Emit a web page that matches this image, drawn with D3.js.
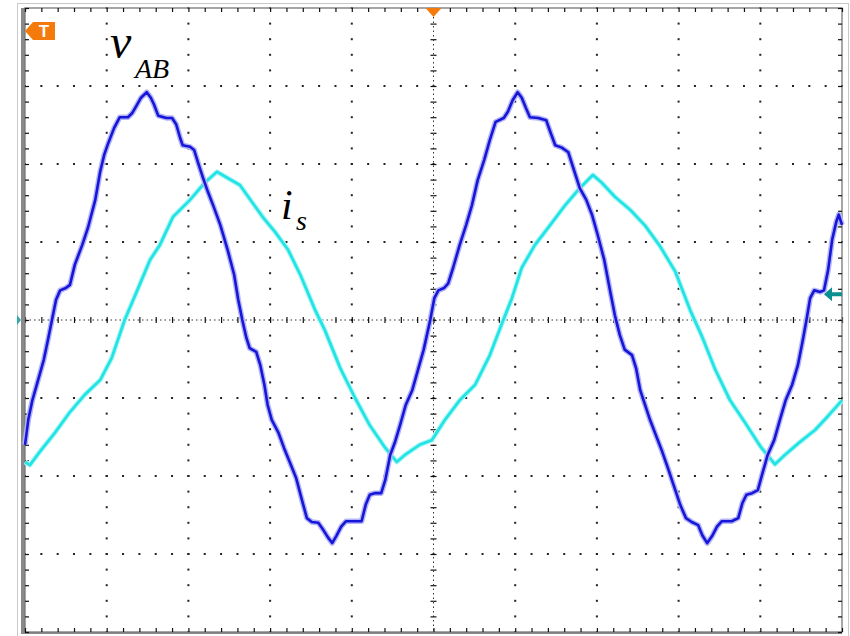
<!DOCTYPE html>
<html>
<head>
<meta charset="utf-8">
<script src="https://cdn.jsdelivr.net/npm/d3@7"></script>
<style>
  html, body { margin: 0; padding: 0; background: #fff; }
  svg { display: block; }
</style>
</head>
<body>
<svg id="chart" width="850" height="636"></svg>
<script>
// ---- Data (time in divisions 0..10, amplitude in divisions -4..4) ----
const vabTime = [0,0.04,0.09,0.16,0.23,0.28,0.33,0.38,0.43,0.50,0.55,0.61,0.70,0.77,0.86,0.92,0.97,1.02,1.09,1.16,1.26,1.31,1.36,1.42,1.49,1.54,1.58,1.63,1.73,1.80,1.85,1.90,1.93,2.02,2.07,2.12,2.18,2.24,2.31,2.39,2.48,2.56,2.61,2.66,2.71,2.75,2.83,2.88,2.93,2.97,3.02,3.10,3.17,3.24,3.32,3.39,3.45,3.51,3.59,3.65,3.71,3.76,3.81,3.87,3.93,4.04,4.12,4.17,4.22,4.28,4.36,4.41,4.47,4.53,4.59,4.66,4.74,4.81,4.88,4.96,
  5.01,5.06,5.13,5.18,5.24,5.32,5.40,5.47,5.54,5.62,5.69,5.76,5.86,5.91,5.97,6.03,6.08,6.13,6.18,6.28,6.38,6.43,6.49,6.57,6.65,6.72,6.79,6.87,6.94,7.01,7.09,7.16,7.22,7.28,7.34,7.43,7.48,7.53,7.59,7.65,7.72,7.80,7.87,7.94,8.02,8.09,8.16,8.24,8.29,8.35,8.41,8.47,8.53,8.65,8.73,8.78,8.83,8.90,8.97,9.02,9.09,9.17,9.24,9.31,9.39,9.46,9.52,9.57,9.61,9.66,9.73,9.78,9.83,9.88,9.93,9.96,10.0];
const vabValue = [-1.60,-1.28,-1.03,-0.77,-0.51,-0.26,0,0.26,0.38,0.41,0.45,0.71,0.96,1.18,1.54,1.90,2.12,2.27,2.46,2.60,2.60,2.65,2.74,2.85,2.92,2.85,2.76,2.62,2.59,2.59,2.51,2.33,2.24,2.22,2.18,2.01,1.82,1.64,1.45,1.22,0.90,0.58,0.26,0,-0.23,-0.36,-0.41,-0.58,-0.83,-1.09,-1.28,-1.44,-1.64,-1.82,-2.03,-2.31,-2.54,-2.59,-2.60,-2.69,-2.79,-2.86,-2.77,-2.65,-2.58,-2.58,-2.58,-2.37,-2.24,-2.22,-2.22,-2.05,-1.73,-1.56,-1.35,-1.09,-0.90,-0.64,-0.38,0,
  0.28,0.38,0.41,0.47,0.67,0.96,1.22,1.47,1.79,2.05,2.31,2.54,2.59,2.67,2.82,2.92,2.85,2.72,2.60,2.59,2.56,2.41,2.24,2.21,2.15,1.92,1.69,1.54,1.35,1.09,0.77,0.38,0.06,-0.19,-0.38,-0.45,-0.62,-0.90,-1.09,-1.28,-1.47,-1.69,-1.90,-2.12,-2.37,-2.54,-2.59,-2.63,-2.76,-2.86,-2.77,-2.65,-2.58,-2.58,-2.54,-2.35,-2.24,-2.22,-2.18,-1.99,-1.73,-1.54,-1.28,-1.03,-0.83,-0.58,-0.26,0.03,0.28,0.38,0.36,0.38,0.64,1.03,1.26,1.35,1.22];

const isTime = [0,0.06,0.18,0.37,0.55,0.73,0.92,1.06,1.22,1.41,1.53,1.65,1.81,2.02,2.20,2.35,2.48,2.63,2.78,2.91,3.06,3.22,3.37,3.55,3.67,3.86,4.04,4.22,4.41,4.55,4.65,4.83,4.98,5.14,5.32,5.51,5.69,5.84,5.96,6.08,6.24,6.43,6.61,6.79,6.95,7.06,7.22,7.41,7.59,7.77,7.96,8.14,8.29,8.45,8.63,8.81,9.00,9.18,9.30,9.49,9.67,9.83,10.0];
const isValue = [-1.82,-1.86,-1.69,-1.44,-1.18,-0.96,-0.77,-0.49,0,0.47,0.77,0.96,1.32,1.54,1.76,1.90,1.82,1.73,1.51,1.32,1.13,0.90,0.58,0.13,-0.13,-0.62,-1.00,-1.35,-1.64,-1.82,-1.73,-1.60,-1.54,-1.28,-1.03,-0.83,-0.45,-0.04,0.28,0.67,0.96,1.22,1.47,1.69,1.86,1.76,1.58,1.41,1.21,0.95,0.62,0.13,-0.22,-0.64,-1.03,-1.31,-1.62,-1.85,-1.73,-1.56,-1.41,-1.23,-1.03];

const xDivisions = 10;
const yDivisions = 8;

// ---- Layout ----
const svg = d3.select("#chart");
const L = 25, R = 842, T = 8, B = 632;
const x = d3.scaleLinear().domain([0, xDivisions]).range([L, R]);
const y = d3.scaleLinear().domain([-yDivisions/2, yDivisions/2]).range([B, T]);

const majorX = d3.range(0, xDivisions + 1);
const majorY = d3.range(-yDivisions/2, yDivisions/2 + 1);
const minorX = d3.range(0, xDivisions + 0.001, 0.2);
const minorY = d3.range(-yDivisions/2, yDivisions/2 + 0.001, 0.2);

// outer light frame
svg.append("rect").attr("x", 17.5).attr("y", 3.5).attr("width", 831).attr("height", 640)
  .attr("fill", "none").attr("stroke", "#c8c8c8").attr("stroke-width", 1);

// grid dots
const g = svg.append("g");
majorX.filter(d => d > 0 && d < xDivisions && d !== xDivisions/2).forEach(d => {
  g.selectAll(null).data(minorY).enter().append("rect")
    .attr("x", x(d) - 1).attr("y", v => y(v) - 1).attr("width", 2).attr("height", 2).attr("fill", "#222");
});
majorY.filter(d => d > -yDivisions/2 && d < yDivisions/2 && d !== 0).forEach(d => {
  g.selectAll(null).data(minorX).enter().append("rect")
    .attr("x", v => x(v) - 1).attr("y", y(d) - 1).attr("width", 2).attr("height", 2).attr("fill", "#222");
});

// center axes (dotted with crossing ticks)
svg.append("line").attr("x1", L).attr("x2", R).attr("y1", y(0)).attr("y2", y(0))
  .attr("stroke", "#333").attr("stroke-width", 1).attr("stroke-dasharray", "1.5,3");
svg.append("line").attr("x1", x(xDivisions/2)).attr("x2", x(xDivisions/2)).attr("y1", T).attr("y2", B)
  .attr("stroke", "#333").attr("stroke-width", 1).attr("stroke-dasharray", "1.5,3");

function cleanAxis(sel) { sel.select(".domain").remove(); sel.selectAll("text").remove(); sel.selectAll("line").attr("stroke", "#111").attr("stroke-width", 1.2); }

svg.append("g").attr("transform", `translate(0,${y(0)})`)
  .call(d3.axisBottom(x).tickValues(minorX).tickSize(3).tickFormat("")).call(cleanAxis);
svg.append("g").attr("transform", `translate(0,${y(0)})`)
  .call(d3.axisTop(x).tickValues(minorX).tickSize(3).tickFormat("")).call(cleanAxis);
svg.append("g").attr("transform", `translate(${x(xDivisions/2)},0)`)
  .call(d3.axisLeft(y).tickValues(minorY).tickSize(3).tickFormat("")).call(cleanAxis);
svg.append("g").attr("transform", `translate(${x(xDivisions/2)},0)`)
  .call(d3.axisRight(y).tickValues(minorY).tickSize(3).tickFormat("")).call(cleanAxis);

// frame
svg.append("rect").attr("x", 21).attr("y", T).attr("width", 4).attr("height", B - T + 2).attr("fill", "#8a8a8a");
svg.append("rect").attr("x", L).attr("y", B).attr("width", R - L).attr("height", 2).attr("fill", "#8a8a8a");
svg.append("rect").attr("x", L).attr("y", T).attr("width", R - L).attr("height", B - T)
  .attr("fill", "none").attr("stroke", "#777").attr("stroke-width", 1.3);

// border inward ticks
svg.append("g").attr("transform", `translate(0,${T})`)
  .call(d3.axisTop(x).tickValues(minorX).tickSize(-4).tickFormat("")).call(cleanAxis);
svg.append("g").attr("transform", `translate(0,${B})`)
  .call(d3.axisBottom(x).tickValues(minorX).tickSize(-4).tickFormat("")).call(cleanAxis);
svg.append("g").attr("transform", `translate(${L},0)`)
  .call(d3.axisLeft(y).tickValues(minorY).tickSize(-4).tickFormat("")).call(cleanAxis);
svg.append("g").attr("transform", `translate(${R},0)`)
  .call(d3.axisRight(y).tickValues(minorY).tickSize(-4).tickFormat("")).call(cleanAxis);

// traces
const vab = vabTime.map((t, i) => [t, vabValue[i]]);
const is = isTime.map((t, i) => [t, isValue[i]]);
const line = d3.line().x(d => x(d[0])).y(d => y(d[1]));

svg.append("path").attr("d", line(is)).attr("fill", "none")
  .attr("stroke", "#b4f6f6").attr("stroke-width", 5).attr("stroke-linejoin", "round");
svg.append("path").attr("d", line(is)).attr("fill", "none")
  .attr("stroke", "#22e4e4").attr("stroke-width", 2.8).attr("stroke-linejoin", "round");

svg.append("path").attr("d", line(vab)).attr("fill", "none")
  .attr("stroke", "#b4b4f6").attr("stroke-width", 5.5).attr("stroke-linejoin", "round");
svg.append("path").attr("d", line(vab)).attr("fill", "none")
  .attr("stroke", "#1616d8").attr("stroke-width", 2.6).attr("stroke-linejoin", "round");

// markers
const orange = "#f47a0c";
svg.append("path").attr("d", `M25,31 L33,22 L55,22 L55,40 L33,40 Z`).attr("fill", orange);
svg.append("text").attr("x", 44).attr("y", 37).attr("text-anchor", "middle")
  .attr("font-family", "Liberation Sans, Arial, sans-serif").attr("font-weight", "bold")
  .attr("font-size", 17).attr("fill", "#fff").text("T");
svg.append("path").attr("d", `M${x(5)-8},8 L${x(5)+8},8 L${x(5)},17 Z`).attr("fill", orange);

const teal = "#0a9090";
const ay = y(0.33);
svg.append("path").attr("d", `M${R-18},${ay} L${R-10},${ay-7} L${R-10},${ay-2} L${R},${ay-2} L${R},${ay+2} L${R-10},${ay+2} L${R-10},${ay+7} Z`).attr("fill", teal);
svg.append("path").attr("d", `M17,${y(0)-5} L21,${y(0)} L17,${y(0)+5} Z`).attr("fill", "#3aa");

// labels
const lab = svg.append("g").attr("font-family", "Liberation Serif, Times New Roman, serif").attr("font-style", "italic").attr("fill", "#000");
lab.append("text").attr("x", 110).attr("y", 58).attr("font-size", 48).text("v");
lab.append("text").attr("x", 135).attr("y", 78).attr("font-size", 28).text("AB");
lab.append("text").attr("x", 281).attr("y", 219).attr("font-size", 42).text("i");
lab.append("text").attr("x", 296).attr("y", 230).attr("font-size", 28).text("s");
</script>
</body>
</html>
